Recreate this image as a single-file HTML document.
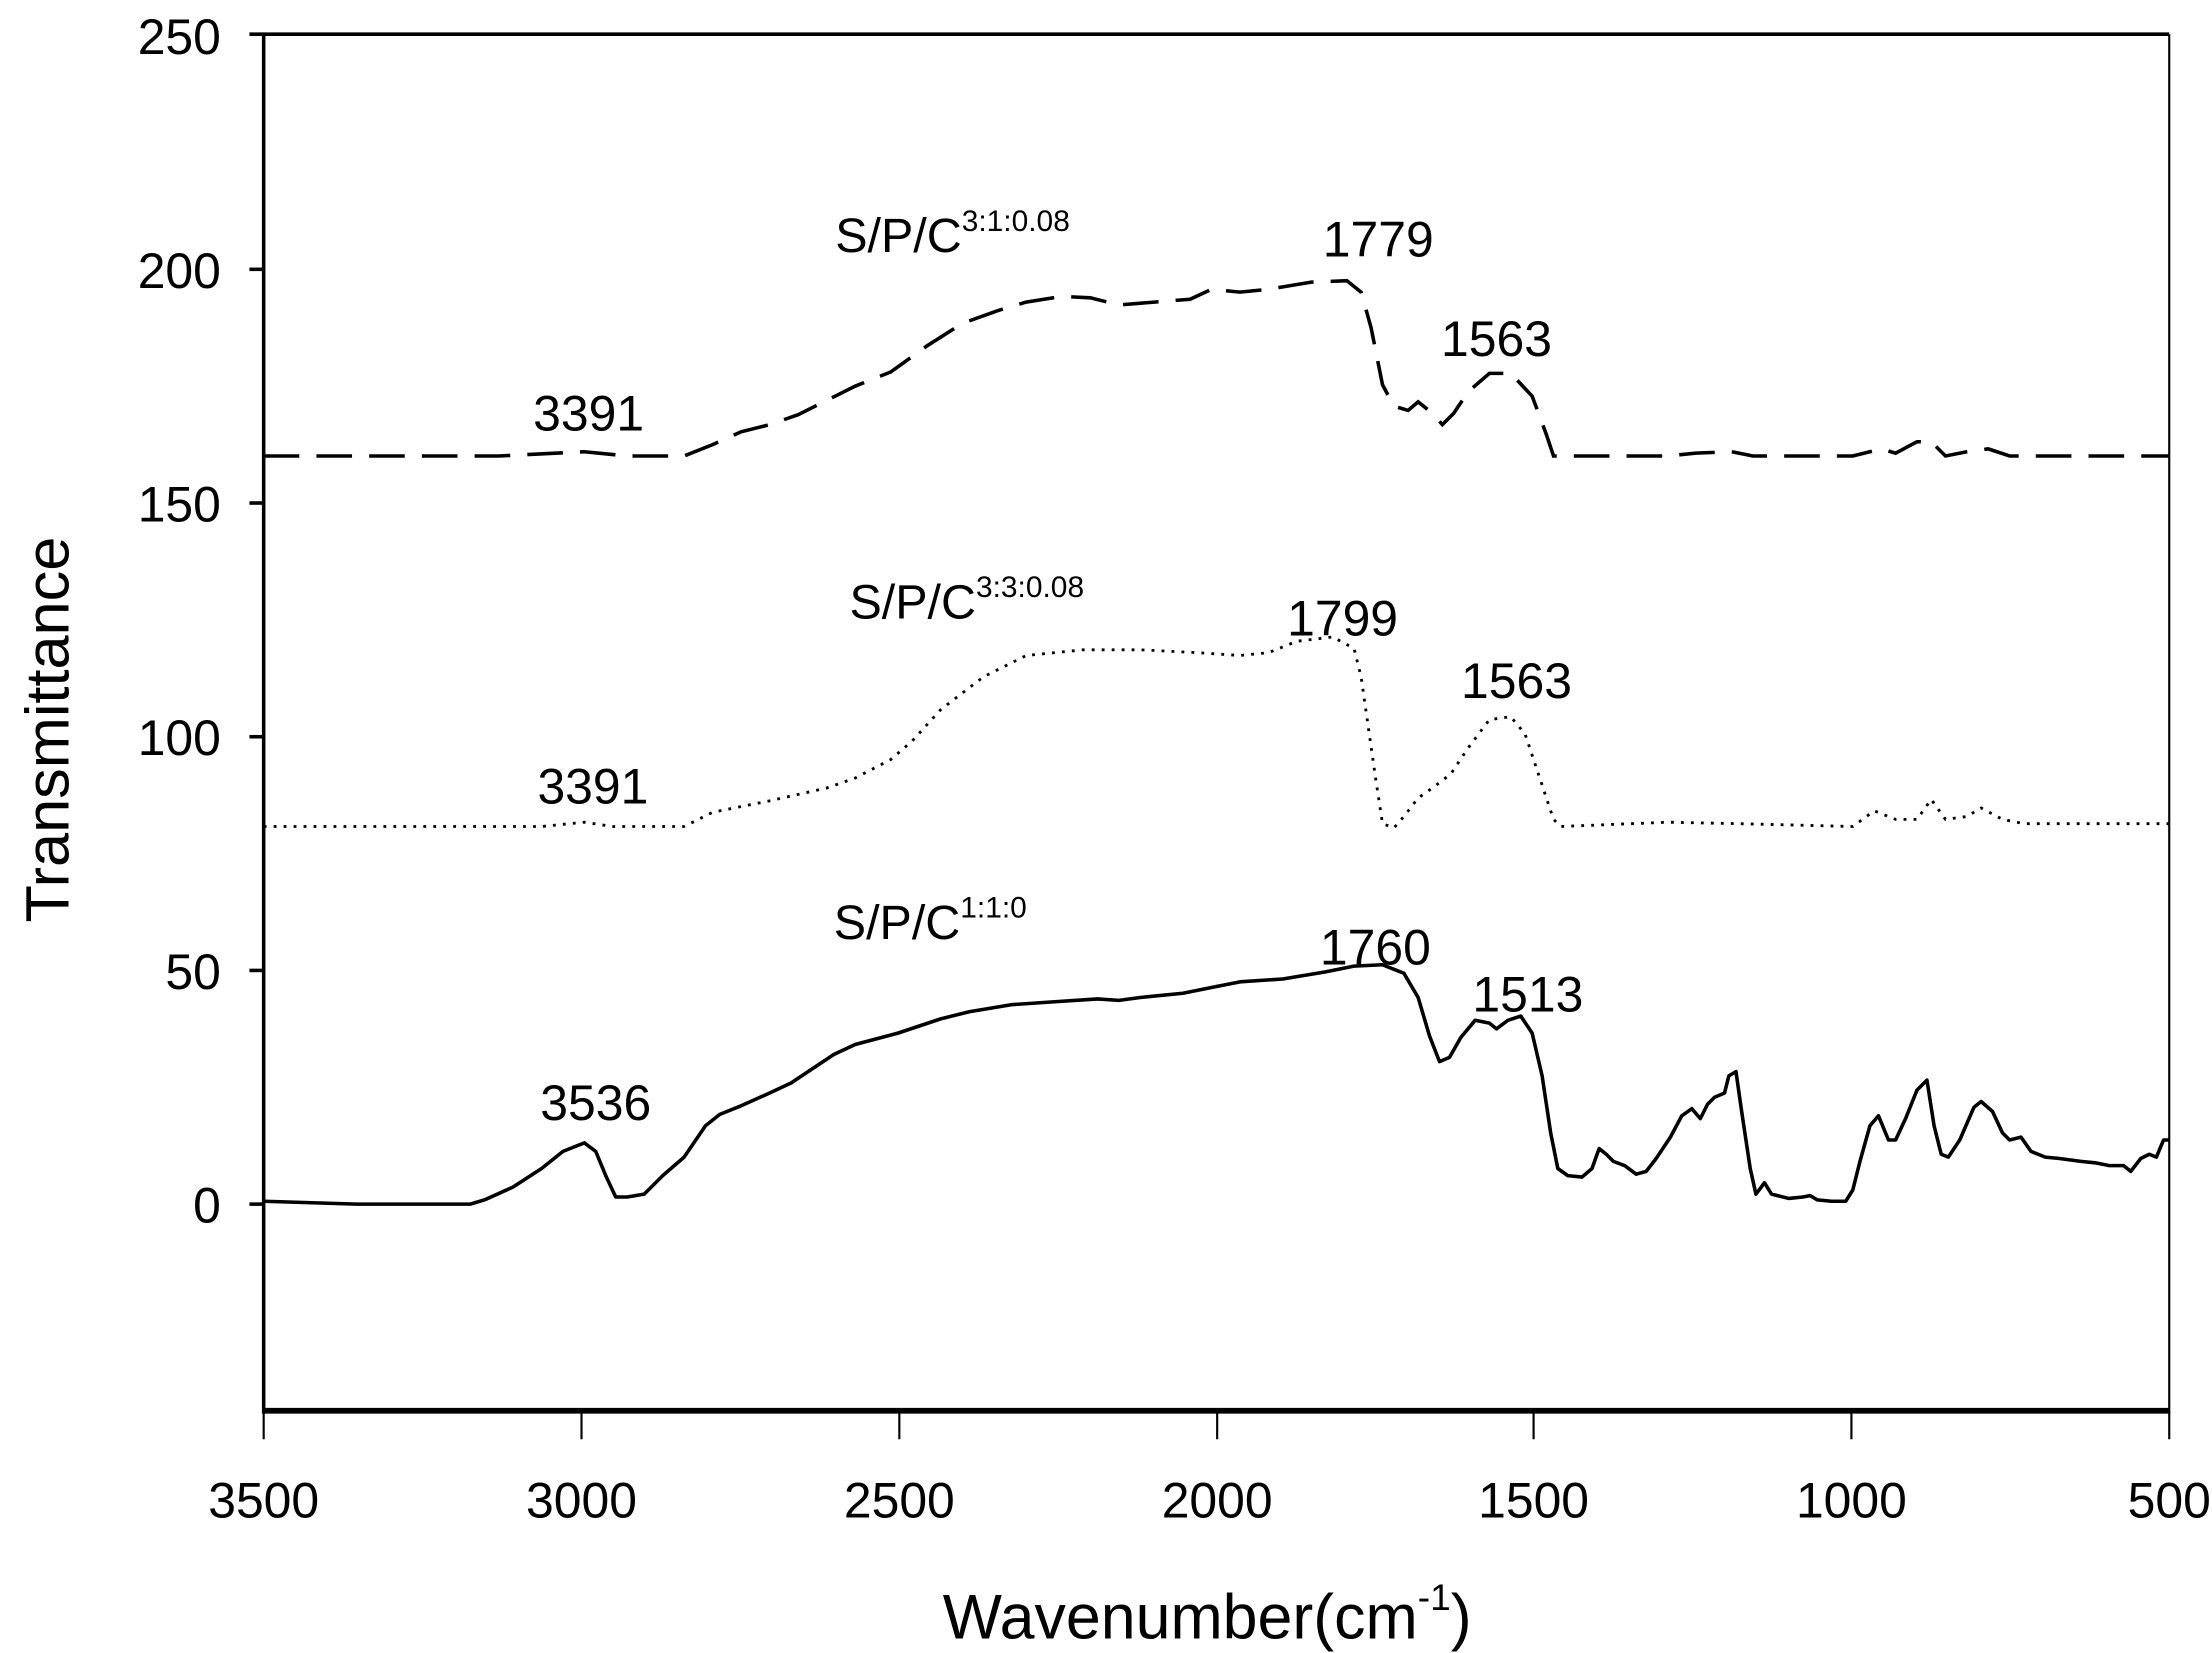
<!DOCTYPE html>
<html><head><meta charset="utf-8"><style>html,body{margin:0;padding:0;background:#fff}svg{display:block}</style></head>
<body>
<svg width="2212" height="1653" viewBox="0 0 1552 1160" preserveAspectRatio="none" xmlns="http://www.w3.org/2000/svg" font-family="Liberation Sans, sans-serif" fill="#000">
<g stroke="#000" fill="none">
<line x1="185" y1="24" x2="185" y2="992" stroke-width="2.5"/>
<line x1="175" y1="24" x2="1522" y2="24" stroke-width="2.5"/>
<line x1="1522" y1="24" x2="1522" y2="992" stroke-width="1.5"/>
<line x1="185" y1="990" x2="1522" y2="990" stroke-width="4"/>
<g stroke-width="2.5">
<line x1="175" y1="189" x2="185" y2="189"/><line x1="175" y1="353" x2="185" y2="353"/><line x1="175" y1="517" x2="185" y2="517"/><line x1="175" y1="681" x2="185" y2="681"/><line x1="175" y1="845" x2="185" y2="845"/>
</g>
<g stroke-width="1.5">
<line x1="185" y1="990" x2="185" y2="1010"/><line x1="408" y1="990" x2="408" y2="1010"/><line x1="631" y1="990" x2="631" y2="1010"/><line x1="854" y1="990" x2="854" y2="1010"/><line x1="1076" y1="990" x2="1076" y2="1010"/><line x1="1299" y1="990" x2="1299" y2="1010"/><line x1="1522" y1="990" x2="1522" y2="1010"/>
</g>
<polyline stroke-width="2.5" stroke-linejoin="round" points="185,843 250,845 330,845 340,842 360,833 380,820 395,808 410,802 418,808 425,825 432,840 440,840 452,838 465,825 480,812 495,790 505,782 520,776 540,767 555,760 570,750 585,740 600,733 630,725 660,715 680,710 710,705 740,703 770,701 785,702 800,700 830,697 850,693 870,689 900,687 930,682 950,678 970,677 985,683 995,700 1003,727 1010,745 1017,742 1025,728 1035,716 1045,718 1050,722 1058,716 1067,713 1075,725 1082,755 1088,795 1093,820 1100,825 1110,826 1117,820 1122,806 1127,810 1132,815 1140,818 1148,824 1155,822 1162,813 1172,798 1180,783 1187,778 1193,785 1198,775 1203,770 1210,767 1213,755 1218,752 1222,780 1228,820 1232,838 1238,830 1243,838 1255,841 1265,840 1270,839 1275,842 1285,843 1295,843 1300,835 1305,815 1312,790 1318,783 1325,800 1330,800 1337,785 1345,765 1352,758 1357,790 1362,810 1367,812 1375,800 1385,777 1390,773 1398,780 1405,795 1410,800 1418,798 1425,808 1435,812 1445,813 1460,815 1470,816 1480,818 1490,818 1495,822 1502,813 1508,810 1513,812 1518,800 1522,800"/>
<polyline stroke-width="2.5" stroke-dasharray="25,12" points="185,320 350,320 410,317 440,320 480,320 500,312 520,303 540,298 560,291 580,281 600,271 625,261 650,243 675,227 700,218 720,212 745,208 765,209 785,214 810,212 835,210 850,203 870,205 890,203 920,198 945,197 955,205 962,230 970,270 978,285 988,288 995,282 1005,290 1012,298 1020,290 1030,275 1045,262 1060,262 1075,278 1085,305 1090,320 1170,320 1190,318 1215,317 1230,320 1300,320 1320,315 1330,318 1345,310 1355,310 1365,320 1380,317 1395,315 1410,320 1522,320"/>
<polyline stroke-width="2" stroke-dasharray="2,5" points="185,580 380,580 410,577 430,580 480,580 500,570 540,562 580,553 600,546 625,533 640,520 660,498 690,475 720,460 760,456 800,456 840,458 870,460 890,458 910,450 935,447 950,455 955,475 960,510 965,545 970,578 978,581 985,573 995,560 1005,553 1018,543 1030,525 1045,505 1060,503 1070,515 1080,545 1090,575 1095,580 1170,577 1220,578 1300,580 1315,569 1330,575 1345,575 1355,561 1365,575 1380,573 1390,567 1405,575 1420,578 1522,578"/>
</g>
<g font-size="35" text-anchor="end">
<text x="155" y="38">250</text><text x="155" y="202">200</text><text x="155" y="366">150</text><text x="155" y="530">100</text><text x="155" y="694">50</text><text x="155" y="858">0</text>
</g>
<g font-size="35" text-anchor="middle">
<text x="185" y="1065">3500</text><text x="408" y="1065">3000</text><text x="631" y="1065">2500</text><text x="854" y="1065">2000</text><text x="1076" y="1065">1500</text><text x="1299" y="1065">1000</text><text x="1522" y="1065">500</text>
<text x="418" y="786">3536</text><text x="965" y="677">1760</text><text x="1072" y="710">1513</text>
<text x="416" y="564">3391</text><text x="942" y="446">1799</text><text x="1064" y="490">1563</text>
<text x="413" y="302">3391</text><text x="967" y="180">1779</text><text x="1050" y="250">1563</text>
</g>
<text x="847" y="1150" font-size="44" text-anchor="middle">Wavenumber(cm<tspan font-size="26" dy="-20">-1</tspan><tspan dy="20">)</tspan></text>
<text transform="translate(48,512) rotate(-90)" font-size="43" text-anchor="middle">Transmittance</text>
<g font-size="34">
<text x="586" y="177">S/P/C<tspan font-size="21" dy="-15">3:1:0.08</tspan></text>
<text x="596" y="434">S/P/C<tspan font-size="21" dy="-15">3:3:0.08</tspan></text>
<text x="585" y="659">S/P/C<tspan font-size="21" dy="-15">1:1:0</tspan></text>
</g>
</svg>
</body></html>
